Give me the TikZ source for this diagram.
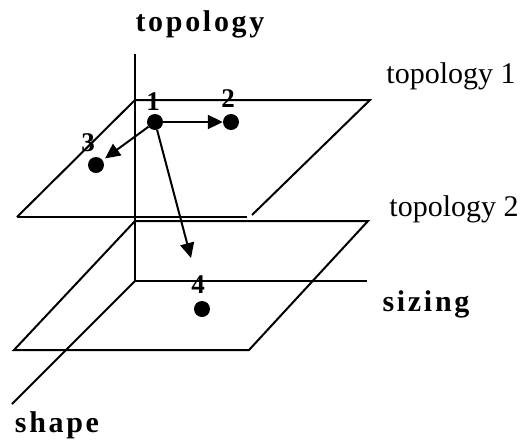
\documentclass[tikz,border=0pt]{standalone}
\usepackage{fontspec}
\setmainfont{Liberation Serif}
\usetikzlibrary{arrows.meta}
\tikzset{
  edge/.style={line width=2pt,draw=black},
  point/.style={circle,fill=black,inner sep=0pt,minimum size=16pt},
  num/.style={font=\fontsize{27}{27}\selectfont\bfseries,inner sep=0pt},
  axislabel/.style={font=\fontsize{30}{30}\selectfont\bfseries\addfontfeature{LetterSpace=9},inner sep=0pt},
  planelabel/.style={font=\fontsize{30}{30}\selectfont,inner sep=0pt},
  move/.style={-{Triangle[length=15pt,width=14pt]},line width=2pt,draw=black}
}
\begin{document}
\begin{tikzpicture}[x=1pt,y=-1pt]
\useasboundingbox (0,0) rectangle (523,440);
% axes
\coordinate (O) at (135,281);
\coordinate (topEnd) at (135,54);
\coordinate (sizeEnd) at (367,281);
\coordinate (shapeEnd) at (12,404);
\draw[edge] (O) -- (topEnd);
\draw[edge] (O) -- (sizeEnd);
\draw[edge] (O) -- (shapeEnd);
% plane topology 1
\draw[edge] (17,217) -- (135,100) -- (370,100) -- (252,215);
\draw[edge] (17,217) -- (247,217);
% plane topology 2
\draw[edge] (14,350) -- (135,221) -- (368,221) -- (249,350) -- cycle;
% points
\node[point] (p1) at (155,122) {};
\node[point] (p2) at (231,122) {};
\node[point] (p3) at (96,165) {};
\node[point] (p4) at (202,309) {};
\node[num] (n1) at (153,102) {1};
\node[num] (n2) at (228,99) {2};
\node[num] (n3) at (88,143) {3};
\node[num] (n4) at (198,285) {4};
\coordinate (t4) at (191,258);
\draw[move] (p1) -- (p2);
\draw[move,shorten >=3pt] (p1) -- (p3);
\draw[move] (p1) -- (t4);
% labels
\node[axislabel] (ltop) at (200,24) {topology};
\node[planelabel] (lt1) at (451,76) {topology 1};
\node[planelabel] (lt2) at (454,209) {topology 2};
\node[axislabel] (lsize) at (426,304) {sizing};
\node[axislabel] (lshape) at (57,425) {shape};
\end{tikzpicture}
\end{document}
